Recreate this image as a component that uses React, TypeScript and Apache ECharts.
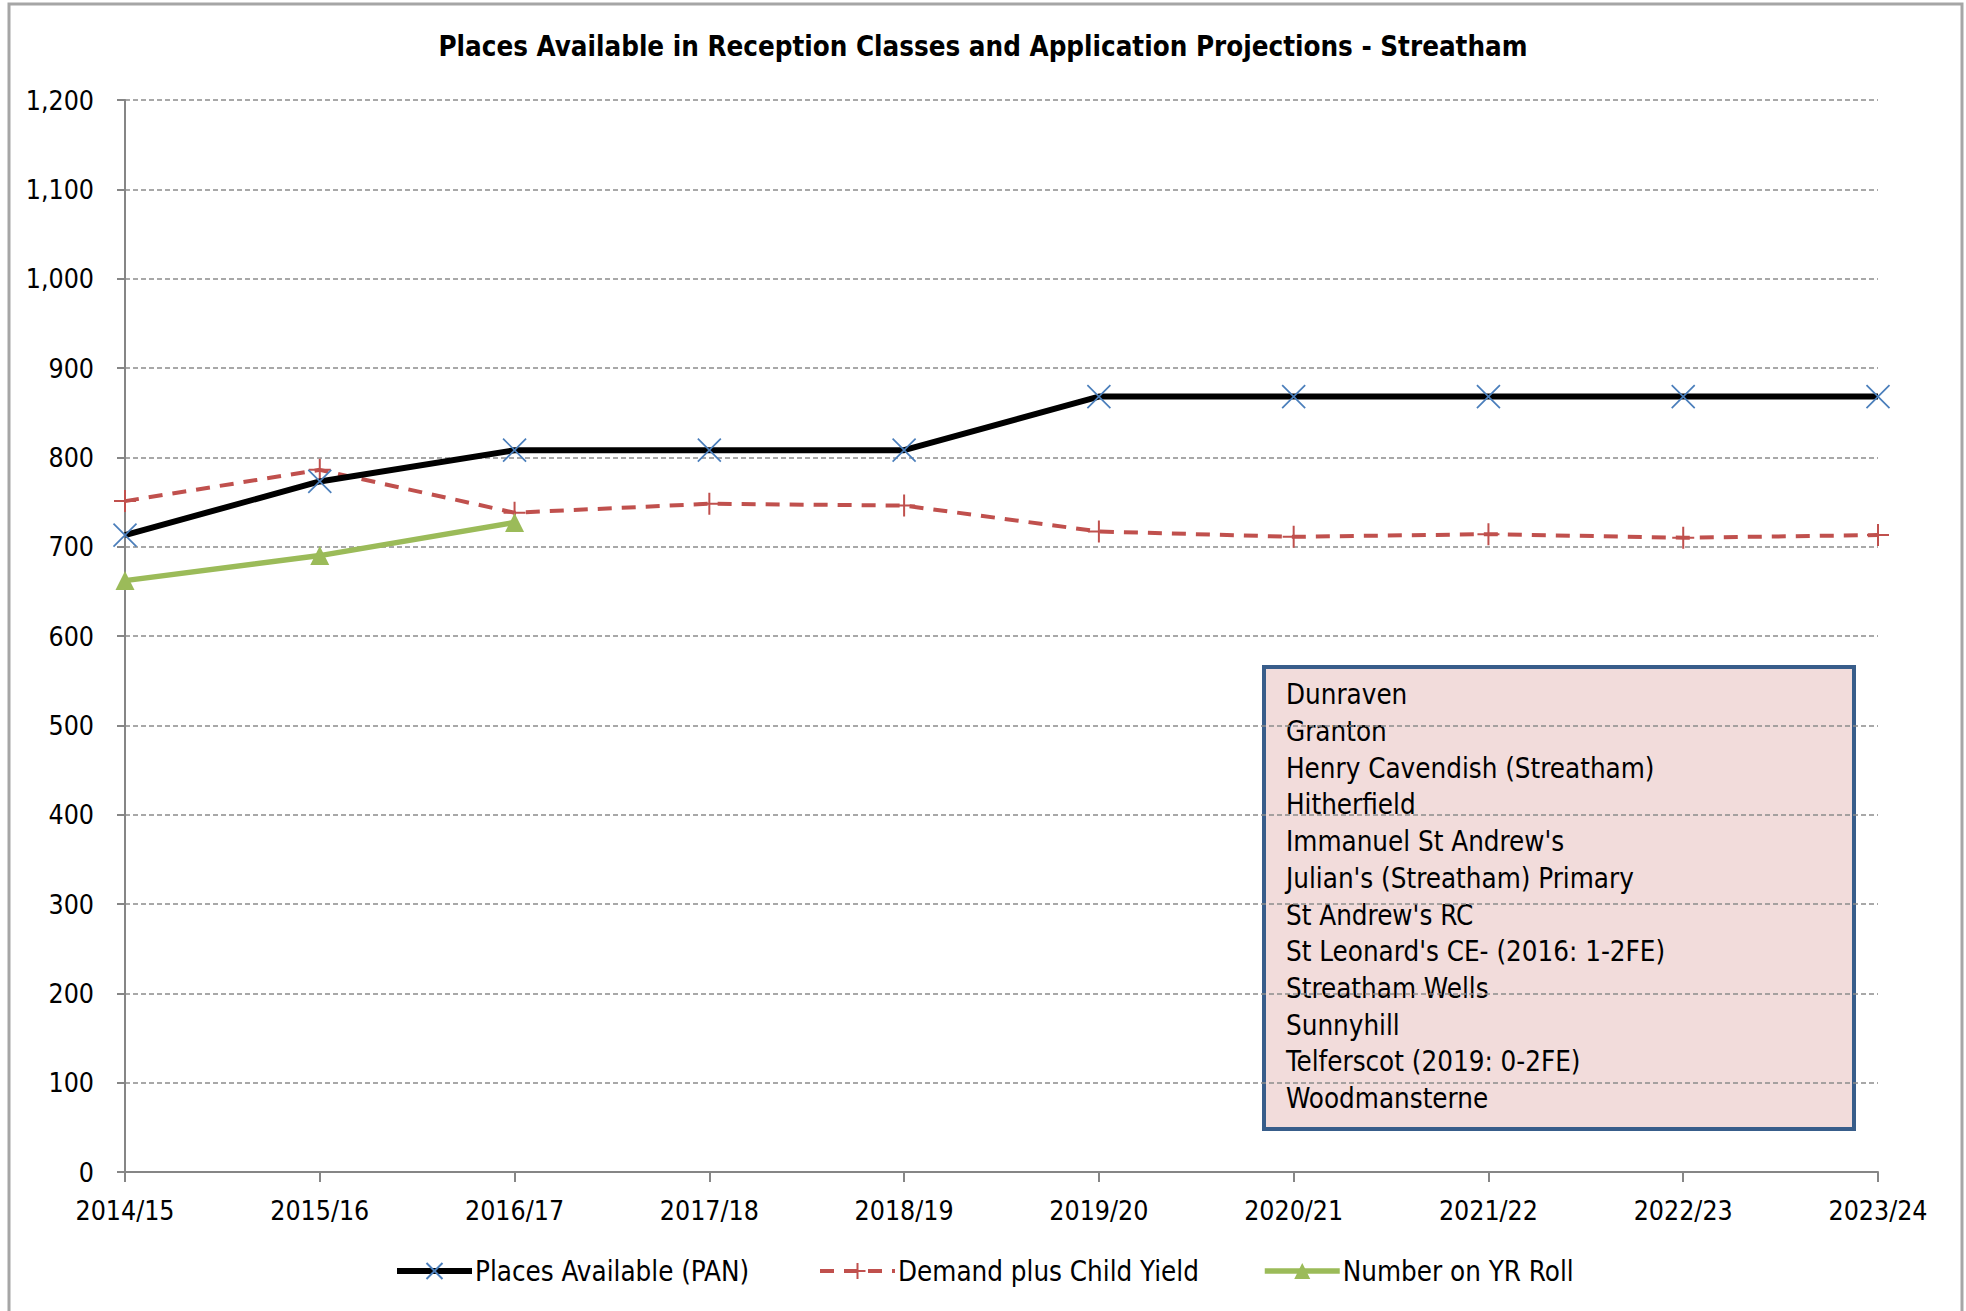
import React, { useEffect, useRef } from "react";
import * as echarts from "echarts";

const categories = ["2014/15", "2015/16", "2016/17", "2017/18", "2018/19", "2019/20", "2020/21", "2021/22", "2022/23", "2023/24"];
const placesAvailable = [713, 773, 808, 808, 808, 868, 868, 868, 868, 868];
const demandChildYield = [751, 786, 738, 748, 746, 717, 711, 714, 710, 713];
const numberOnRoll = [662, 690, 727, null, null, null, null, null, null, null];
const yTicks = { min: 0, max: 1200, interval: 100 };
const schools = [
  "Dunraven",
  "Granton",
  "Henry Cavendish (Streatham)",
  "Hitherfield",
  "Immanuel St Andrew's",
  "Julian's (Streatham) Primary",
  "St Andrew's RC",
  "St Leonard's CE- (2016: 1-2FE)",
  "Streatham Wells",
  "Sunnyhill",
  "Telferscot (2019: 0-2FE)",
  "Woodmansterne",
];
const titleText = "Places Available in Reception Classes and Application Projections - Streatham";
const seriesNames = ["Places Available (PAN)", "Demand plus Child Yield", "Number on YR Roll"];
const legendLefts = [389, 813, 1257];

const FONT = "'Liberation Sans Narrow', 'DejaVu Sans Condensed', 'Liberation Sans', sans-serif";

export default function App() {
  const ref = useRef<HTMLDivElement>(null);
  useEffect(() => {
    document.body.style.margin = "0";
    const chart = echarts.init(ref.current!, null, { renderer: "svg" });
    chart.setOption({
      animation: false,
      backgroundColor: "#ffffff",
      textStyle: { fontFamily: FONT },
      title: {
        text: titleText,
        left: "center",
        top: 27,
        textStyle: { fontFamily: FONT, fontSize: 27.5, fontWeight: "bold", color: "#000" },
      },
      grid: { left: 125, right: 88, top: 100, bottom: 139, containLabel: false },
      xAxis: {
        type: "category",
        data: categories,
        boundaryGap: false,
        axisLine: { lineStyle: { color: "#868686", width: 2 } },
        axisTick: { show: true, interval: 0, length: 10, lineStyle: { color: "#868686", width: 2 } },
        axisLabel: { interval: 0, margin: 25, fontSize: 26.5, color: "#000", fontFamily: FONT },
        splitLine: { show: false },
      },
      yAxis: {
        type: "value",
        min: yTicks.min,
        max: yTicks.max,
        interval: yTicks.interval,
        axisLine: { show: true, lineStyle: { color: "#868686", width: 2 } },
        axisTick: { show: true, length: 8, lineStyle: { color: "#868686", width: 2 } },
        axisLabel: {
          margin: 31,
          fontSize: 26.5,
          color: "#000",
          fontFamily: FONT,
          formatter: (v: number) => v.toLocaleString("en-US"),
        },
        splitLine: { show: true, lineStyle: { color: "#8c8c8c", type: [5, 3], width: 1.5 } },
      },
      legend: seriesNames.map((name, i) => ({
        left: legendLefts[i],
        top: 1252,
        itemWidth: 75,
        itemHeight: 20,
        textStyle: { fontSize: 27.5, color: "#000", fontFamily: FONT, padding: [0, 0, 0, -2] },
        lineStyle: { width: "inherit" },
        data: [name],
      })),
      series: [
        {
          name: seriesNames[0],
          type: "line",
          data: placesAvailable,
          symbol: "path://M0,0L20,20M20,0L0,20",
          symbolSize: 23,
          showAllSymbol: true,
          lineStyle: { color: "#000000", width: 6 },
          itemStyle: { color: "rgba(0,0,0,0)", borderColor: "#4a7ebb", borderWidth: 1.7 },
          z: 3,
        },
        {
          name: seriesNames[1],
          type: "line",
          data: demandChildYield,
          symbol: "path://M10,0L10,20M0,10L20,10",
          symbolSize: 22,
          showAllSymbol: true,
          lineStyle: { color: "#c0504d", width: 4, type: [14, 10] },
          itemStyle: { color: "rgba(0,0,0,0)", borderColor: "#c0504d", borderWidth: 2 },
          z: 2,
        },
        {
          name: seriesNames[2],
          type: "line",
          data: numberOnRoll,
          symbol: "triangle",
          symbolSize: 19,
          showAllSymbol: true,
          connectNulls: false,
          lineStyle: { color: "#9bbb59", width: 5.5 },
          itemStyle: { color: "#9bbb59" },
          z: 4,
        },
      ],
      graphic: [
        {
          type: "rect",
          shape: { x: 9, y: 4, width: 1953, height: 1400 },
          style: { fill: "none", stroke: "#a6a6a6", lineWidth: 3 },
          silent: true,
          z: 0,
        },
        {
          type: "group",
          z: 10,
          children: [
            {
              type: "rect",
              shape: { x: 1264, y: 667, width: 590, height: 462 },
              style: { fill: "#f2dcdb", stroke: "#385d8a", lineWidth: 4 },
            },
            {
              type: "text",
              x: 1286,
              y: 676,
              style: {
                text: schools.join("\n"),
                fontSize: 27.5,
                lineHeight: 36.7,
                fontFamily: FONT,
                fill: "#000",
                verticalAlign: "top",
              },
            },
          ],
        },
      ],
    });
    return () => chart.dispose();
  }, []);
  return <div ref={ref} style={{ width: 1966, height: 1311 }} />;
}
